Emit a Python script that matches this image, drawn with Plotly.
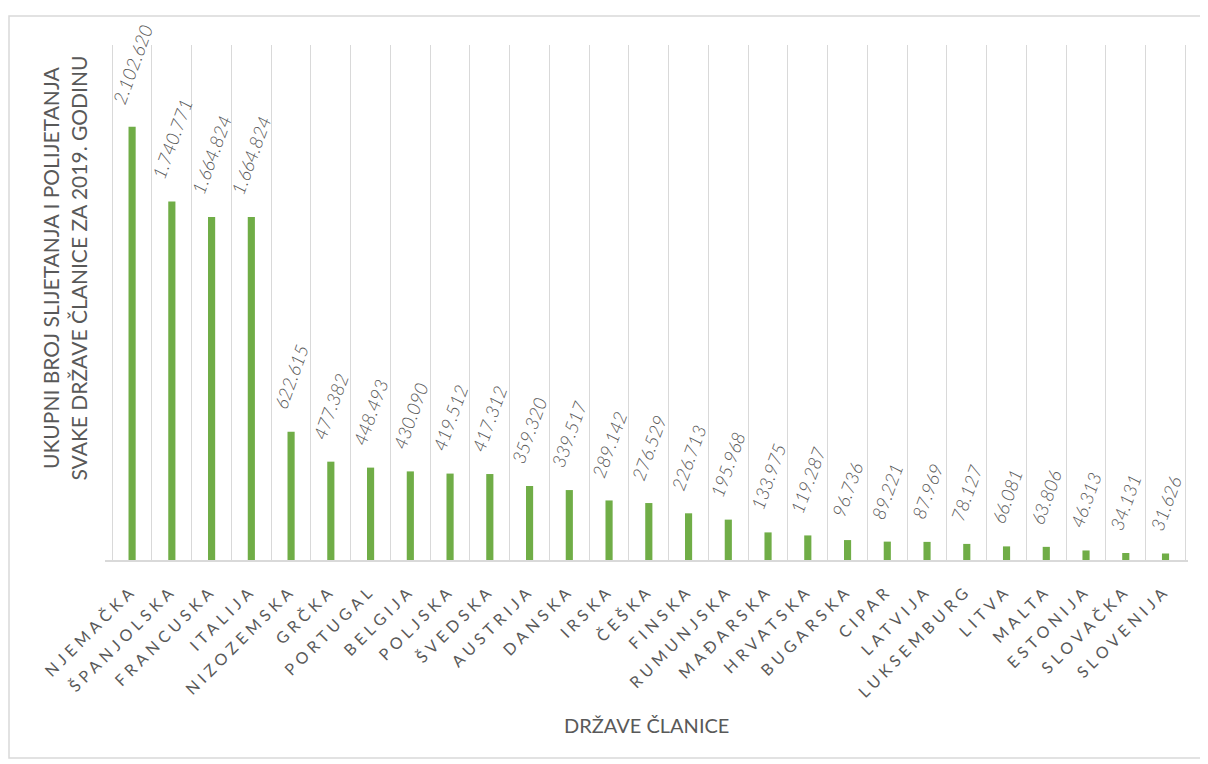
import plotly.graph_objects as go

countries = ["NJEMAČKA", "ŠPANJOLSKA", "FRANCUSKA", "ITALIJA", "NIZOZEMSKA", "GRČKA",
             "PORTUGAL", "BELGIJA", "POLJSKA", "ŠVEDSKA", "AUSTRIJA", "DANSKA", "IRSKA",
             "ČEŠKA", "FINSKA", "RUMUNJSKA", "MAĐARSKA", "HRVATSKA", "BUGARSKA", "CIPAR",
             "LATVIJA", "LUKSEMBURG", "LITVA", "MALTA", "ESTONIJA", "SLOVAČKA", "SLOVENIJA"]
flights = [2102620, 1740771, 1664824, 1664824, 622615, 477382, 448493, 430090, 419512,
           417312, 359320, 339517, 289142, 276529, 226713, 195968, 133975, 119287, 96736,
           89221, 87969, 78127, 66081, 63806, 46313, 34131, 31626]

y_title_lines = ["UKUPNI BROJ SLIJETANJA I POLIJETANJA", "SVAKE DRŽAVE ČLANICE ZA 2019. GODINU"]
x_title = "DRŽAVE ČLANICE"

labels = [f"{v:,}".replace(",", ".") for v in flights]
ticktext = [f'<span style="letter-spacing:4.5px">{c}</span>' for c in countries]

GREY = "#595959"
FONT = "Lato"

# page body has an 8px margin: plot area in screen px is x 105..1188, y 45..560
OFF = 8
PL, PR, PT, PB = 105, 1188, 45, 560
PW, PH = PR - PL, PB - PT


def px(x):
    return (x - PL) / PW


def py(y):
    return (PB - y) / PH


fig = go.Figure(go.Bar(
    x=countries, y=flights,
    marker=dict(color="#70AD47", line=dict(width=0)),
    hoverinfo="x+y",
))

annotations = []
for c, v, t in zip(countries, flights, labels):
    annotations.append(dict(
        x=c, y=v, xref="x", yref="y", text=t, textangle=-70,
        xanchor="center", yanchor="bottom", yshift=17, showarrow=False,
        font=dict(family=FONT, size=18.5, color=GREY, style="italic", weight=300),
    ))

annotations += [
    dict(text=y_title_lines[0], xref="paper", yref="paper",
         x=px(50), y=py(268), xanchor="center", yanchor="middle",
         textangle=-90, showarrow=False, font=dict(family=FONT, size=21, color=GREY)),
    dict(text=y_title_lines[1], xref="paper", yref="paper",
         x=px(77.5), y=py(268), xanchor="center", yanchor="middle",
         textangle=-90, showarrow=False, font=dict(family=FONT, size=21, color=GREY)),
    dict(text=x_title, xref="paper", yref="paper",
         x=px(646), y=py(725), xanchor="center", yanchor="middle",
         showarrow=False, font=dict(family=FONT, size=20, color=GREY)),
]

fig.update_layout(
    width=1208 - OFF, height=764 - OFF,
    margin=dict(l=PL - OFF, r=1208 - PR, t=PT - OFF, b=764 - PB),
    paper_bgcolor="white", plot_bgcolor="white",
    bargap=0.82, showlegend=False,
    font=dict(family=FONT, color=GREY),
    xaxis=dict(
        type="category", tickson="boundaries", showgrid=True, gridcolor="#D9D9D9", gridwidth=1,
        showline=True, linecolor="#D9D9D9", linewidth=1.5, ticks="",
        tickmode="array", tickvals=countries, ticktext=ticktext,
        tickangle=-45, ticklabelstandoff=13,
        tickfont=dict(family=FONT, size=16, color=GREY),
    ),
    yaxis=dict(range=[0, 2500000], visible=False, showgrid=False, zeroline=False),
    annotations=annotations,
    shapes=[dict(type="rect", xref="paper", yref="paper",
                 x0=px(9), x1=px(1204), y0=py(758), y1=py(16),
                 line=dict(color="#D9D9D9", width=1.5), fillcolor="rgba(0,0,0,0)", layer="below")],
)

fig.write_html("out.html")
